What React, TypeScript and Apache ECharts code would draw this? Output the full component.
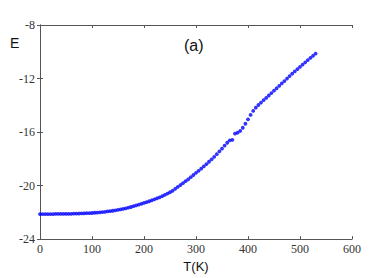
import React, { useEffect, useRef } from "react";
import * as echarts from "echarts";

const temps: number[] = [
  0, 5, 10, 15, 20, 25, 30, 35, 40, 45, 50, 55, 60, 65, 70, 75, 80, 85, 90, 95,
  100, 105, 110, 115, 120, 125, 130, 135, 140, 145, 150, 155, 160, 165, 170, 175,
  180, 185, 190, 195, 200, 205, 210, 215, 220, 225, 230, 235, 240, 245, 250, 255,
  260, 265, 270, 275, 280, 285, 290, 295, 300, 305, 310, 315, 320, 325, 330, 335,
  340, 345, 350, 355, 360, 365, 370, 375, 380, 385, 390, 395, 400, 405, 410, 415,
  420, 425, 430, 435, 440, 445, 450, 455, 460, 465, 470, 475, 480, 485, 490, 495,
  500, 505, 510, 515, 520, 525, 530,
];

const energies: number[] = [
  -22.13, -22.13, -22.13, -22.13, -22.13, -22.13, -22.12, -22.12, -22.12, -22.12,
  -22.12, -22.11, -22.11, -22.1, -22.1, -22.09, -22.08, -22.07, -22.06, -22.06,
  -22.05, -22.03, -22.02, -22.0, -21.98, -21.96, -21.93, -21.91, -21.88, -21.85,
  -21.82, -21.78, -21.74, -21.7, -21.65, -21.6, -21.54, -21.48, -21.42, -21.36,
  -21.3, -21.24, -21.17, -21.1, -21.03, -20.95, -20.88, -20.79, -20.7, -20.6,
  -20.5, -20.39, -20.24, -20.1, -19.96, -19.82, -19.67, -19.53, -19.37, -19.21,
  -19.05, -18.9, -18.74, -18.57, -18.4, -18.22, -18.04, -17.85, -17.65, -17.45,
  -17.24, -17.02, -16.8, -16.62, -16.58, -16.12, -16.05, -15.92, -15.68, -15.38,
  -15.05, -14.72, -14.42, -14.18, -13.98, -13.8, -13.62, -13.45, -13.27, -13.09,
  -12.91, -12.73, -12.55, -12.37, -12.19, -12.0, -11.82, -11.64, -11.47, -11.3,
  -11.13, -10.96, -10.79, -10.62, -10.46, -10.3, -10.14,
];

const xTicks = { min: 0, max: 600, interval: 100 };
const yTicks = { min: -24, max: -8, interval: 4 };

const axisColor = "#555555";
const labelFont = "Times New Roman, Liberation Serif, DejaVu Serif, serif";
const sansFont = "Liberation Sans, Arial, sans-serif";

export default function App() {
  const ref = useRef<HTMLDivElement>(null);
  useEffect(() => {
    if (!ref.current) return;
    const chart = echarts.init(ref.current, undefined, { renderer: "svg" });
    const data = temps.map((t, i) => [t, energies[i]]);
    const lineStyle = { color: axisColor, width: 1 };
    chart.setOption({
      animation: false,
      backgroundColor: "#ffffff",
      grid: { left: 40, top: 25, width: 312, height: 221, containLabel: false },
      graphic: [
        {
          type: "text",
          left: 10,
          top: 36,
          style: { text: "E", fontFamily: sansFont, fontSize: 14, fill: "#111" },
        },
        {
          type: "text",
          left: 184,
          top: 37,
          style: { text: "(a)", fontFamily: sansFont, fontSize: 16, fill: "#111" },
        },
      ],
      xAxis: [
        {
          type: "value",
          ...xTicks,
          position: "bottom",
          name: "T(K)",
          nameLocation: "middle",
          nameGap: 19,
          nameTextStyle: { fontFamily: sansFont, fontSize: 13, color: "#111" },
          axisLine: { show: true, lineStyle },
          axisTick: { show: true, inside: true, length: 3, lineStyle },
          axisLabel: { fontFamily: labelFont, fontSize: 12, color: "#333", margin: 4 },
          splitLine: { show: false },
        },
        {
          type: "value",
          ...xTicks,
          position: "top",
          axisLine: { show: true, lineStyle },
          axisTick: { show: true, inside: true, length: 3, lineStyle },
          axisLabel: { show: false },
          splitLine: { show: false },
        },
      ],
      yAxis: [
        {
          type: "value",
          ...yTicks,
          position: "left",
          axisLine: { show: true, lineStyle },
          axisTick: { show: true, inside: true, length: 3, lineStyle },
          axisLabel: { fontFamily: labelFont, fontSize: 12, color: "#333", margin: 5 },
          splitLine: { show: false },
        },
        {
          type: "value",
          ...yTicks,
          position: "right",
          axisLine: { show: true, lineStyle },
          axisTick: { show: true, inside: true, length: 3, lineStyle },
          axisLabel: { show: false },
          splitLine: { show: false },
        },
      ],
      series: [
        {
          type: "scatter",
          xAxisIndex: 0,
          yAxisIndex: 0,
          data,
          symbol: "circle",
          symbolSize: 3.8,
          itemStyle: { color: "#0000ff" },
          silent: true,
        },
      ],
    });
    return () => chart.dispose();
  }, []);
  return (
    <div
      ref={ref}
      style={{ position: "fixed", left: 0, top: 0, width: 382, height: 278 }}
    />
  );
}
